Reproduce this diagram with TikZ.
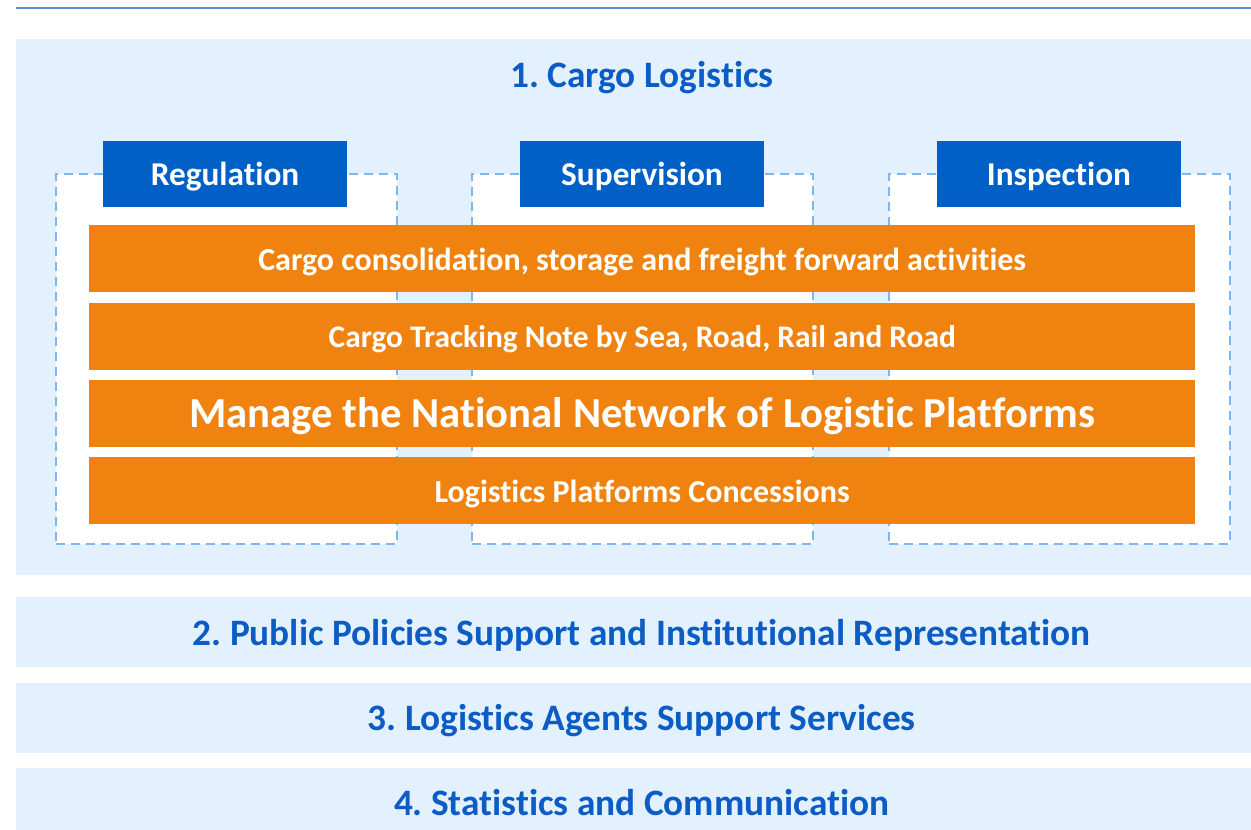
\documentclass[tikz,border=0pt]{standalone}
\usepackage{fontspec}
\setmainfont{Carlito}[Ligatures=NoCommon]
\frenchspacing
\usetikzlibrary{positioning}
\definecolor{paleblue}{HTML}{E3F0FD}
\definecolor{headblue}{HTML}{0060C6}
\definecolor{textblue}{HTML}{0B5CC5}
\definecolor{dashblue}{HTML}{80B4F2}
\definecolor{barorange}{HTML}{F0830F}
\definecolor{rule}{HTML}{5B8FD6}
\tikzset{panel/.style={fill=paleblue, draw=none, inner sep=0pt},
column/.style={draw=dashblue, line width=2pt, dash pattern=on 9pt off 6pt, fill=white, minimum width=341pt, minimum height=370pt, inner sep=0pt},
head/.style={fill=headblue, text=white, font=\bfseries\fontsize{33.3}{38}\selectfont, text height=28.5pt, text depth=4.8pt, minimum width=244pt, minimum height=66pt, inner sep=0pt},
bar/.style={fill=barorange, text=white, font=\bfseries\fontsize{32}{36}\selectfont, text height=27.5pt, text depth=4.5pt, minimum width=1106pt, minimum height=67pt, inner sep=0pt},
band/.style={panel, text=textblue, font=\bfseries\fontsize{37.3}{42}\selectfont, text height=31.5pt, text depth=5.8pt, minimum width=1251pt, minimum height=70pt}
}

\begin{document}
\begin{tikzpicture}[x=1pt, y=-1pt]
\useasboundingbox (0,0) rectangle (1251,830);
\draw[rule, line width=1.5pt] (16,8) -- (1267,8);

% cargo logistics panel, runs past the right edge
\node[panel, minimum width=1251pt, minimum height=536pt, anchor=north west] (cargo) at (16,39) {};
\node[text=textblue, font=\bfseries\fontsize{37.3}{42}\selectfont, text height=31.5pt, text depth=5.8pt] (cargotitle) at (642,75) {1. Cargo Logistics};

% the three activity columns
\node[column, anchor=north west] (regcol) at (55,173) {};
\node[column, anchor=north west] (supcol) at (471,173) {};
\node[column, anchor=north west] (inscol) at (888,173) {};

\node[head] (reg) at (225,174) {Regulation};
\node[head] (sup) at (642,174) {Supervision};
\node[head] (ins) at (1059,174) {Inspection};

% bars across the columns
\node[bar, anchor=north west] (consol) at (89,225) {Cargo consolidation, storage and freight forward activities};
\node[bar, below=10pt of consol, font=\bfseries\fontsize{31.4}{36}\selectfont] (tracking) {Cargo Tracking Note by Sea, Road, Rail and Road};
\node[bar, below=10pt of tracking, font=\bfseries\fontsize{42.7}{48}\selectfont, text height=35.5pt, text depth=7.2pt] (network) {Manage the National Network of Logistic Platforms};
\node[bar, below=10pt of network] (concess) {Logistics Platforms Concessions};

% remaining areas
\node[band, anchor=north west] (policies) at (16,597) {2. Public Policies Support and Institutional Representation};
\node[band, below=15pt of policies] (agents) {3. Logistics Agents Support Services};
\node[band, below=15pt of agents] (stats) {4. Statistics and Communication};
\end{tikzpicture}
\end{document}
